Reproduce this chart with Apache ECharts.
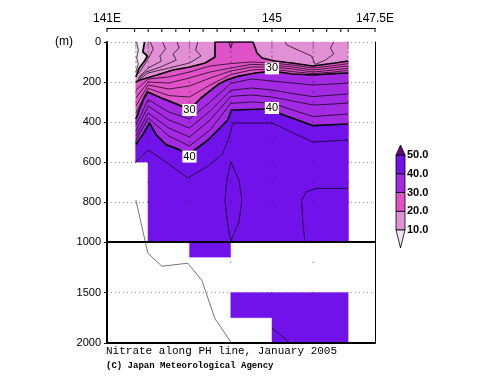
<!DOCTYPE html>
<html><head><meta charset="utf-8">
<script src="https://cdn.jsdelivr.net/npm/echarts@6/dist/echarts.min.js"></script>
<style>html,body{margin:0;padding:0;background:#fff}#c{width:500px;height:387px}</style>
</head><body><div id="c"></div>
<script>
// ---------- data (lon in degrees E, depth in metres) ----------
const bandLevels = [10, 20, 30, 40, 50];
const bandColors = ['#f3e2f2', '#e190d6', '#e052c8', '#a32ae2', '#7112ea', '#5f0a80'];
const colorbarLabels = ['10.0', '20.0', '30.0', '40.0', '50.0'];
const xTickValues = [141, 145, 147.5];
const xTickTexts = ['141E', '145', '147.5E'];
const stationTicks = [141, 141.67, 142.0, 142.33, 142.67, 143.0, 143.33, 143.67, 144.0, 144.33, 144.67, 145.0, 145.33, 145.67, 146.0, 146.33, 146.67, 146.85, 147.5];

// area covered by observations (upper panel)
const regionTop = [[141.70,0],[146.85,0],[146.85,1000],[142.00,1000],[142.00,600],[141.70,600]];

// thick isolines
const iso10 = [[141.70,175],[141.78,130],[141.91,95],[141.98,70],[141.87,50],[141.91,0]];
const iso20 = [[141.70,200],[141.80,190],[142.21,165],[142.60,140],[143.01,125],[143.38,105],[143.62,75],[143.62,0],[144.54,0],[144.64,55],[144.76,80],[145.07,95],[145.48,105],[145.99,120],[146.53,105],[146.85,95]];
const iso30 = [[141.70,385],[141.80,330],[141.90,280],[141.99,250],[142.32,280],[142.72,313],[143.00,338],[143.28,280],[143.69,213],[143.93,188],[144.17,172],[144.60,155],[145.00,145],[145.50,160],[146.00,165],[146.50,158],[146.85,155]];
const iso40 = [[141.70,513],[141.87,463],[142.03,405],[142.19,463],[142.43,513],[142.75,538],[142.96,565],[143.45,490],[143.93,390],[144.02,340],[144.90,335],[145.15,355],[145.99,418],[146.85,410]];

// thin isolines
const iso08 = [[141.72,0],[141.76,40],[141.72,80],[141.76,110],[141.70,150]];
const iso12 = [[142.05,0],[142.12,35],[142.02,75],[141.90,115],[141.76,160]];
const iso14 = [[142.35,0],[142.42,35],[142.28,70],[142.32,95],[142.00,130],[141.78,175]];
const iso16 = [[142.70,0],[142.75,30],[142.60,60],[142.68,90],[142.30,125],[141.95,150],[141.74,185]];
const iso18 = [[143.20,0],[143.15,40],[143.28,70],[143.00,105],[142.50,130],[142.00,155],[141.74,192]];
const iso18e = [[145.32,0],[145.36,15],[145.63,40],[145.96,70],[146.05,112],[146.30,90],[146.50,60],[146.42,30],[146.50,0]];
const iso22v = [[143.95,0],[144.00,30],[144.05,0]];
const iso22 = [[141.70,240],[142.00,185],[142.50,175],[143.00,150],[143.50,120],[144.00,108],[144.50,100],[145.00,105],[145.50,115],[146.00,130],[146.50,118],[146.85,108]];
const iso24 = [[141.70,280],[142.00,200],[142.50,205],[143.00,180],[143.50,150],[144.00,130],[144.50,112],[145.00,115],[145.50,125],[146.00,140],[146.50,128],[146.85,120]];
const iso26 = [[141.70,320],[142.00,215],[142.50,235],[143.00,220],[143.50,180],[144.00,145],[144.50,125],[145.00,125],[145.50,135],[146.00,150],[146.50,140],[146.85,132]];
const iso28 = [[141.70,355],[142.00,232],[142.50,268],[143.00,275],[143.50,215],[144.00,163],[144.50,140],[145.00,135],[145.50,148],[146.00,158],[146.50,150],[146.85,142]];
const iso32 = [[141.70,415],[142.00,288],[142.50,350],[143.00,385],[143.50,300],[144.00,207],[144.50,185],[145.00,195],[145.50,205],[146.00,215],[146.50,210],[146.85,205]];
const iso34 = [[141.70,445],[142.00,320],[142.50,390],[143.00,430],[143.50,345],[144.00,242],[144.50,230],[145.00,240],[145.50,258],[146.00,273],[146.50,265],[146.85,260]];
const iso36 = [[141.70,470],[142.00,355],[142.50,430],[143.00,475],[143.50,390],[144.00,272],[144.50,265],[145.00,275],[145.50,295],[146.00,315],[146.50,310],[146.85,305]];
const iso38 = [[141.70,492],[142.00,380],[142.50,470],[143.00,520],[143.50,440],[144.00,307],[144.50,300],[145.00,305],[145.50,340],[146.00,373],[146.50,365],[146.85,360]];
const iso42 = [[141.70,600],[142.00,540],[142.50,610],[142.96,680],[143.45,620],[143.80,560],[143.97,470],[144.05,405],[145.00,405],[145.99,500],[146.85,490]];
const iso44a = [[144.00,598],[143.90,700],[143.86,790],[143.92,900],[144.00,998],[144.20,900],[144.27,790],[144.20,690],[144.00,598]];
const iso44b = [[145.80,1000],[145.75,900],[145.72,790],[145.84,748],[146.08,732],[146.85,732]];
const iso44c = [[145.00,1853],[145.44,2000]];

// lower panel observed blocks
const bottomBlockValues = [45, 45];
const bottomBlocks = [
  [[143.0,1000],[144.0,1000],[144.0,1150],[143.0,1150]],
  [[144.0,1500],[146.85,1500],[146.85,2000],[145.0,2000],[145.0,1750],[144.0,1750]]
];

// bottom topography
const topoTop = [[141.70,790],[141.93,1000]];
const topoBottom = [[141.93,1000],[141.99,1110],[142.33,1240],[142.96,1210],[143.30,1380],[143.62,1760],[144.02,2000]];

// sampling points
const sampleStations = [141.70,142.00,143.00,144.00,145.00,146.00,146.85];
const stationMaxDepth = [600,1000,1000,1000,1000,1000,1000];
const sampleDepths = [0,10,20,30,50,75,100,125,150,200,250,300,400,500,600,700,800,1000];
const samplesBottom = [[144.0,1200],[146.0,1200],[145.0,1500],[146.0,1500]];

// contour labels
const labelLons = [145.0, 143.0, 145.0, 143.0];
const labelDepths = [132, 340, 330, 573];
const labelTexts = ['30', '30', '40', '40'];

// ---------- build ----------
function colorFor(v){ let i=0; while(i<bandLevels.length && v>=bandLevels[i]) i++; return bandColors[i]; }
function bandPolygon(iso){
  const pts = iso.slice();
  const last = pts[pts.length-1];
  if (last[0] < regionTop[1][0]) pts.push(regionTop[1]);
  return pts.concat(regionTop.slice(2));
}
const topFills = [
  {pts: regionTop, color: bandColors[0]},
  {pts: bandPolygon(iso10), color: bandColors[1]},
  {pts: bandPolygon(iso20), color: bandColors[2]},
  {pts: bandPolygon(iso30), color: bandColors[3]},
  {pts: bandPolygon(iso40), color: bandColors[4]}
];
const botFills = bottomBlocks.map((p,i)=>({pts:p, color: colorFor(bottomBlockValues[i])}));

function polyRenderer(list){
  return function(params, api){
    return {type:'group', children: list.map(p=>({
      type:'polygon', shape:{points: p.pts.map(q=>api.coord(q))},
      style:{fill:p.color, stroke:p.color, lineWidth:0.3}
    }))};
  };
}

const contourList = [
  {v:8,d:iso08},{v:10,d:iso10},{v:12,d:iso12},{v:14,d:iso14},{v:16,d:iso16},{v:18,d:iso18},{v:18,d:iso18e},
  {v:20,d:iso20},{v:22,d:iso22v},{v:22,d:iso22},{v:24,d:iso24},{v:26,d:iso26},{v:28,d:iso28},
  {v:30,d:iso30},{v:32,d:iso32},{v:34,d:iso34},{v:36,d:iso36},{v:38,d:iso38},{v:40,d:iso40},
  {v:42,d:iso42},{v:44,d:iso44a},{v:44,d:iso44b}
];

const topSamples = [];
sampleStations.forEach((s,i)=>sampleDepths.forEach(d=>{ if(d<=stationMaxDepth[i]) topSamples.push([s,d]); }));

const series = [];
series.push({type:'custom', xAxisIndex:0, yAxisIndex:0, z:1, silent:true, data:[[141,0]], renderItem: polyRenderer(topFills)});
series.push({type:'custom', xAxisIndex:3, yAxisIndex:2, z:1, silent:true, data:[[141,1000]], renderItem: polyRenderer(botFills)});
contourList.forEach(c=>{
  const thick = c.v % 10 === 0;
  series.push({type:'line', xAxisIndex:0, yAxisIndex:0, z:3, silent:true, showSymbol:false, symbol:'none',
    data:c.d, lineStyle:{color:'#000', width: thick?1.7:0.7}, smooth:false});
});
series.push({type:'line', xAxisIndex:3, yAxisIndex:2, z:3, silent:true, symbol:'none', data:iso44c, lineStyle:{color:'#000',width:0.7}});
series.push({type:'line', xAxisIndex:0, yAxisIndex:0, z:3, silent:true, symbol:'none', data:topoTop, lineStyle:{color:'#777',width:1}});
series.push({type:'line', xAxisIndex:3, yAxisIndex:2, z:3, silent:true, symbol:'none', data:topoBottom, lineStyle:{color:'#777',width:1}});
series.push({type:'scatter', xAxisIndex:0, yAxisIndex:0, z:4, silent:true, symbolSize:1.6, data:topSamples, itemStyle:{color:'rgba(0,0,0,0.55)'}});
series.push({type:'scatter', xAxisIndex:3, yAxisIndex:2, z:4, silent:true, symbolSize:1.6, data:samplesBottom, itemStyle:{color:'rgba(0,0,0,0.55)'}});
// contour labels
series.push({type:'custom', xAxisIndex:0, yAxisIndex:0, z:7, silent:true,
  data: labelLons.map((l,i)=>[l, labelDepths[i], i]),
  renderItem:function(params, api){
    const p = api.coord([api.value(0), api.value(1)]);
    return {type:'text', x:p[0], y:p[1], style:{text:labelTexts[api.value(2)], fill:'#000',
      font:'11px "Liberation Sans"', align:'center', verticalAlign:'middle',
      backgroundColor:'#ffffff', padding:[1,1,0,1]}};
  }});
// station ticks on top axis
series.push({type:'custom', xAxisIndex:0, yAxisIndex:0, z:6, silent:true, clip:false,
  data: stationTicks.map(t=>[t,0]),
  renderItem:function(params, api){
    const p = api.coord([api.value(0), 0]);
    return {type:'line', shape:{x1:p[0], y1:p[1]-14, x2:p[0], y2:p[1]-10}, style:{stroke:'#000', lineWidth:1}};
  }});
// colorbar
series.push({type:'custom', xAxisIndex:4, yAxisIndex:4, z:6, silent:true, clip:false, data:[[0,10]],
  renderItem:function(params, api){
    const ch = [];
    for (let i=0;i<bandLevels.length-1;i++){
      const a = api.coord([0, bandLevels[i]]), b = api.coord([1, bandLevels[i+1]]);
      ch.push({type:'rect', shape:{x:a[0], y:b[1], width:b[0]-a[0], height:a[1]-b[1]},
        style:{fill:bandColors[i+1], stroke:'#000', lineWidth:0.8}});
    }
    const t0 = api.coord([0, bandLevels[bandLevels.length-1]]), t1 = api.coord([1, bandLevels[bandLevels.length-1]]);
    ch.push({type:'polygon', shape:{points:[[t0[0],t0[1]],[t1[0],t1[1]],[(t0[0]+t1[0])/2, t0[1]-10]]},
      style:{fill:bandColors[bandColors.length-1], stroke:'#000', lineWidth:0.8}});
    const b0 = api.coord([0, bandLevels[0]]), b1 = api.coord([1, bandLevels[0]]);
    ch.push({type:'polygon', shape:{points:[[b0[0],b0[1]],[b1[0],b1[1]],[(b0[0]+b1[0])/2, b0[1]+18]]},
      style:{fill:bandColors[0], stroke:'#000', lineWidth:0.8}});
    return {type:'group', children:ch};
  }});

const lblFont = {fontSize:11, color:'#000', fontFamily:'Liberation Sans'};
const frameX = (grid, pos, w) => ({gridIndex:grid, type:'value', min:141, max:147.5, position:pos, offset:0, z:5,
  axisLine:{onZero:false, lineStyle:{color:'#000', width:w}}, axisTick:{show:false}, axisLabel:{show:false}, splitLine:{show:false}});
const option = {
  animation:false,
  backgroundColor:'#fff',
  grid:[
    {left:107, top:42, width:268, height:200},
    {left:107, top:242, width:268, height:101},
    {left:396, top:155, width:9, height:75}
  ],
  xAxis:[
    {gridIndex:0, type:'value', min:141, max:147.5, interval:0.5, position:'top', offset:14, z:5,
      axisLine:{onZero:false, lineStyle:{color:'#000', width:1}}, axisTick:{show:false}, splitLine:{show:false},
      axisLabel:{margin:3, fontSize:12, showMinLabel:true, showMaxLabel:true, color:'#000', fontFamily:'Liberation Sans',
        formatter:v=>{const i=xTickValues.findIndex(t=>Math.abs(t-v)<1e-6); return i>=0?xTickTexts[i]:'';}}},
    frameX(0, 'bottom', 2),
    frameX(1, 'top', 2),
    frameX(1, 'bottom', 2),
    {gridIndex:2, type:'value', min:0, max:1, show:false}
  ],
  yAxis:[
    {gridIndex:0, type:'value', inverse:true, min:0, max:1000, interval:200, position:'left', z:5,
      axisLine:{show:true, onZero:false, lineStyle:{color:'#000', width:2}}, axisTick:{show:true, length:3, lineStyle:{color:'#000'}},
      axisLabel:Object.assign({margin:6, formatter:v=>String(v)}, lblFont), splitLine:{show:false}},
    {gridIndex:0, type:'value', inverse:true, min:0, max:1000, interval:200, position:'right', z:5,
      axisLine:{show:true, onZero:false, lineStyle:{color:'#000', width:1}}, axisTick:{show:false}, axisLabel:{show:false},
      splitLine:{show:false}},
    {gridIndex:1, type:'value', inverse:true, min:1000, max:2000, interval:500, position:'left', z:5,
      axisLine:{show:true, onZero:false, lineStyle:{color:'#000', width:2}}, axisTick:{show:true, length:3, lineStyle:{color:'#000'}},
      axisLabel:Object.assign({margin:6, formatter:v=>v===1000?'':String(v)}, lblFont), splitLine:{show:false}},
    {gridIndex:1, type:'value', inverse:true, min:1000, max:2000, interval:500, position:'right', z:5,
      axisLine:{show:true, onZero:false, lineStyle:{color:'#000', width:1}}, axisTick:{show:false}, axisLabel:{show:false},
      splitLine:{show:false}},
    {gridIndex:2, type:'value', min:10, max:50, interval:10, position:'right',
      axisLine:{show:false}, axisTick:{show:false}, splitLine:{show:false},
      axisLabel:{margin:2, fontSize:11, fontWeight:'bold', color:'#000', fontFamily:'Liberation Sans',
        formatter:v=>{const i=bandLevels.indexOf(v); return i>=0?colorbarLabels[i]:'';}}},
    {gridIndex:0, type:'value', inverse:true, min:0, max:1000, interval:200, position:'left', z:0,
      axisLine:{show:false}, axisTick:{show:false}, axisLabel:{show:false},
      splitLine:{show:true, lineStyle:{color:'#999', type:[1,3], width:1}}},
    {gridIndex:1, type:'value', inverse:true, min:1000, max:2000, interval:500, position:'left', z:0,
      axisLine:{show:false}, axisTick:{show:false}, axisLabel:{show:false},
      splitLine:{show:true, lineStyle:{color:'#999', type:[1,3], width:1}}}
  ],
  graphic:[
    {type:'text', left:55, top:36, style:{text:'(m)', font:'12px "Liberation Sans"', fill:'#000'}},
    {type:'text', left:106, top:346, style:{text:'Nitrate along PH line, January 2005', font:'11px "Liberation Mono"', fill:'#000'}},
    {type:'text', left:106, top:361, style:{text:'(C) Japan Meteorological Agency', font:'bold 9px "Liberation Mono"', fill:'#000'}}
  ],
  series:series
};
const chart = echarts.init(document.getElementById('c'), null, {renderer:'canvas'});
chart.setOption(option);
</script></body></html>
